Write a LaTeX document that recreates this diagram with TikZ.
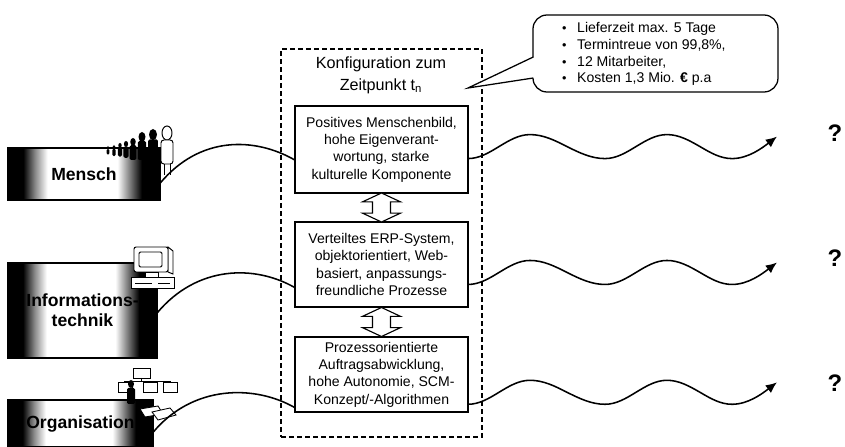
\documentclass[tikz,border=0pt]{standalone}
\usepackage{fontspec}
\setmainfont{Liberation Sans}
\usetikzlibrary{positioning,fit,calc,shapes.arrows,arrows.meta}
\pgfdeclarehorizontalshading{pillar}{100bp}{color(0bp)=(black); color(30bp)=(black); color(34bp)=(black!45); color(38bp)=(white); color(61bp)=(white); color(65bp)=(black!50); color(69bp)=(black); color(100bp)=(black)}

\begin{document}
\begin{tikzpicture}[
  x=0.25mm, y=-0.25mm,
  every node/.style={font=\fontsize{10}{12.3}\selectfont, outer sep=0pt},
  area/.style={draw, line width=0.8pt, shade, shading=pillar, align=center, font=\bfseries\fontsize{12.5}{14.5}\selectfont},
  conf/.style={draw, line width=1pt, fill=white, minimum width=43.25mm, align=center},
  swap/.style={double arrow, draw, line width=0.8pt, fill=white, rotate=90, minimum height=7.25mm, minimum width=9.25mm, inner sep=2.1mm, double arrow head extend=2.5mm, double arrow tip angle=130},
  frame/.style={draw, line width=0.8pt, dash pattern=on 1.2mm off 0.8mm},
  link/.style={line width=1.1pt},
  wave/.style={line width=1.1pt, -{Latex[length=2.8mm,width=2.4mm]}},
  ask/.style={font=\bfseries\fontsize{17}{17}\selectfont}
]
\useasboundingbox (0,0) rectangle (845,447);

% the three areas
\node[area, minimum width=38mm, minimum height=13mm] (mensch) at (84,174) {Mensch};
\node[area, minimum width=37.25mm, minimum height=23.75mm] (it) at (82.5,310.5) {Informations-\\technik};
\node[area, minimum width=36.25mm, minimum height=11.75mm] (org) at (80.5,423.5) {Organisation};

% crowd on the Mensch box
\foreach \x/\t/\s in {108/146/0.22,114/145/0.28,120/143/0.34,126/141/0.42,133/138/0.55,142/132/0.7,153/129/0.8} {
  \fill (\x,{\t+7*\s}) ellipse ({5*\s} and {7*\s});
  \fill[rounded corners=1pt] ({\x-6*\s},{\t+13*\s}) rectangle ({\x+6*\s},{max(\t+40*\s,154)});
}

% front person
\filldraw[fill=white, line width=0.7pt] (167,133) ellipse (5 and 7);
\filldraw[fill=white, line width=0.7pt, rounded corners=2pt] (161,140) rectangle (173,164);
\draw[line width=0.7pt] (164,164) -- (164,175) (170,164) -- (170,175);

% terminal
\filldraw[fill=white, line width=0.7pt] (168,247) -- (173,251) -- (173,274) -- (168,272) -- cycle;
\filldraw[fill=white, line width=0.7pt, rounded corners=1.5pt] (134,247) rectangle (168,272);
\draw[line width=0.7pt, rounded corners=1pt] (139,252) rectangle (162,267);
\filldraw[fill=white, line width=0.7pt] (145,272) rectangle (158,277);
\filldraw[fill=white, line width=0.7pt] (131,277) rectangle (174,288);
\draw[line width=0.5pt] (135,283) -- (152,283) (158,283) -- (170,283);

% org chart
\filldraw[fill=white, line width=0.6pt] (133,368) rectangle (150,378);
\draw[line width=0.6pt] (141,378) -- (141,381) (124,381) -- (170,381)
  (124,381) -- (124,382) (150,381) -- (150,382) (170,381) -- (170,382);
\foreach \x in {118,143,163}
  \filldraw[fill=white, line width=0.6pt] (\x,382) rectangle ({\x+14},392);
\fill (131,384) ellipse (3 and 4);
\fill[rounded corners=1pt] (127,388) rectangle (135,404);
\filldraw[fill=white, line width=0.6pt] (140,409) -- (158,406) -- (163,414) -- (145,417) -- cycle;
\filldraw[fill=white, line width=0.6pt] (152,412) -- (170,408) -- (176,415) -- (158,420) -- cycle;

% configuration frame
\node[frame, fit={(281,49) (482,437)}, inner sep=0pt] (cfg) {};
\node[align=center, font=\fontsize{11.5}{15.5}\selectfont] (title) at (381,75) {Konfiguration zum\\Zeitpunkt t\textsubscript{n}};

\node[conf, minimum height=21.75mm] (b1) at (381.5,149.5) {Positives Menschenbild,\\hohe Eigenverant-\\wortung, starke\\kulturelle Komponente};
\node[conf, minimum height=21.25mm, below=7.25mm of b1] (b2) {Verteiltes ERP-System,\\objektorientiert, Web-\\basiert, anpassungs-\\freundliche Prozesse};
\node[conf, minimum height=18.75mm, below=7.5mm of b2] (b3) {Prozessorientierte\\Auftragsabwicklung,\\hohe Autonomie, SCM-\\Konzept/-Algorithmen};

\node[swap] (s12) at ($(b1.south)!.5!(b2.north)$) {};
\node[swap] (s23) at ($(b2.south)!.5!(b3.north)$) {};

% links into the configuration
\foreach \a/\b in {mensch.-7/b1.187, it.-2/b2.195, org.-7/b3.201}
  \draw[link] (\a) .. controls +(40,-48) and +(-40,-23) .. (\b);

% open future
\foreach \b/\a/\n in {b1/-6/1, b2/-13/2, b3/-19/3}
  \draw[wave] (\b.\a) cos ++(31,-12) sin ++(31,-12) cos ++(37,12) sin ++(38,12)
    cos ++(31,-12) sin ++(31,-12) cos ++(33,12) sin ++(32,12) cos ++(45,-22) coordinate (w\n);
\foreach \y/\n in {133/1,258/2,383/3}
  \node[ask] (q\n) at (835,\y) {?};

% key figures
\node[draw, line width=0.9pt, rounded corners=3.5mm, minimum width=61.25mm, minimum height=19.25mm] (bub) at (655.5,53.5) {};
\coordinate (tip) at (468,88);
\fill[white] ($(bub.west)+(1.5,3.5)$) -- (tip) -- ($(bub.west)+(1.5,24.5)$) -- cycle;
\draw[line width=0.9pt] ($(bub.west)+(0.3,3.5)$) -- (tip) -- ($(bub.west)+(0.3,24.5)$);
\node[anchor=west, inner sep=0pt, align=left, font=\fontsize{10}{12}\selectfont] (facts) at (562,54)
  {\makebox[3.8mm][l]{\small\textbullet}Lieferzeit max. 5 Tage\\
   \makebox[3.8mm][l]{\small\textbullet}Termintreue von 99,8\%,\\
   \makebox[3.8mm][l]{\small\textbullet}12 Mitarbeiter,\\
   \makebox[3.8mm][l]{\small\textbullet}Kosten 1,3 Mio. \textbf{€} p.a};

\end{tikzpicture}
\end{document}
